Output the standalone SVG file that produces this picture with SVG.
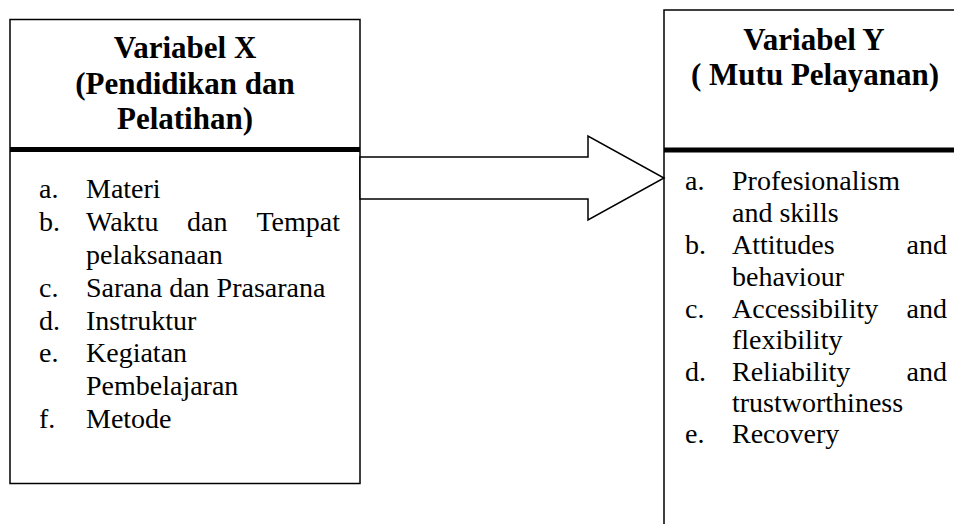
<svg xmlns="http://www.w3.org/2000/svg" width="954" height="524" viewBox="0 0 954 524">
<style>
.box{fill:#fff;stroke:#000;stroke-width:1.5}
.div{stroke:#000;stroke-width:5}
.t{font-family:"Liberation Serif","Times New Roman",serif;font-weight:bold;font-size:31px;fill:#000;text-anchor:middle}
.b{font-family:"Liberation Serif","Times New Roman",serif;font-size:28px;fill:#000}
.r{text-anchor:end}
.arr{fill:#fff;stroke:#000;stroke-width:1.5;stroke-linejoin:miter}
</style>
<rect width="954" height="524" fill="#fff"/>
<g id="node-x">
<rect class="box" x="10" y="19.5" width="350" height="464"/>
<line class="div" x1="10" y1="149.5" x2="360" y2="149.5"/>
<text class="t" x="185" y="58">Variabel X</text>
<text class="t" x="185" y="94">(Pendidikan dan</text>
<text class="t" x="185" y="129">Pelatihan)</text>
<text class="b" x="39" y="198">a.</text><text class="b" x="86" y="198">Materi</text>
<text class="b" x="39" y="231">b.</text><text class="b" x="86" y="231">Waktu</text><text class="b" x="187" y="231">dan</text><text class="b r" x="340" y="231">Tempat</text>
<text class="b" x="86" y="264">pelaksanaan</text>
<text class="b" x="39" y="297">c.</text><text class="b" x="86" y="297">Sarana dan Prasarana</text>
<text class="b" x="39" y="330">d.</text><text class="b" x="86" y="330">Instruktur</text>
<text class="b" x="39" y="362">e.</text><text class="b" x="86" y="362">Kegiatan</text>
<text class="b" x="86" y="395">Pembelajaran</text>
<text class="b" x="39" y="428">f.</text><text class="b" x="86" y="428">Metode</text>
</g>
<g id="node-y">
<rect class="box" x="664" y="10" width="300" height="530"/>
<line class="div" x1="664" y1="150" x2="964" y2="150"/>
<text class="t" x="814" y="50">Variabel Y</text>
<text class="t" x="815" y="85">( Mutu Pelayanan)</text>
<text class="b" x="685" y="190">a.</text><text class="b" x="732" y="190">Profesionalism</text>
<text class="b" x="732" y="222">and skills</text>
<text class="b" x="685" y="254">b.</text><text class="b" x="732" y="254">Attitudes</text><text class="b r" x="947" y="254">and</text>
<text class="b" x="732" y="286">behaviour</text>
<text class="b" x="685" y="318">c.</text><text class="b" x="732" y="318">Accessibility</text><text class="b r" x="947" y="318">and</text>
<text class="b" x="732" y="349">flexibility</text>
<text class="b" x="685" y="381">d.</text><text class="b" x="732" y="381">Reliability</text><text class="b r" x="947" y="381">and</text>
<text class="b" x="732" y="412">trustworthiness</text>
<text class="b" x="685" y="443">e.</text><text class="b" x="732" y="443">Recovery</text>
</g>
<g id="connectors">
<path class="arr" d="M360,157 L588,157 L588,136 L664,178 L588,220 L588,199 L360,199 Z"/>
</g>
</svg>
